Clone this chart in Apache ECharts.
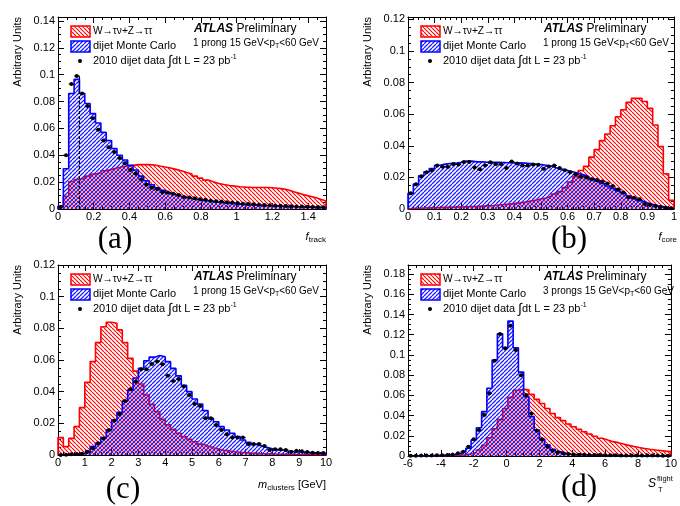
<!DOCTYPE html>
<html><head><meta charset="utf-8">
<script src="https://cdn.jsdelivr.net/npm/echarts@6/dist/echarts.min.js"></script>
<style>html,body{margin:0;padding:0;background:#fff}#c{width:680px;height:506px}</style>
</head><body><div id="c"></div>
<script>
// ---------- data (50 bins per panel) ----------
const aRed = [0.002,0.0095,0.0205,0.022,0.023,0.0245,0.026,0.027,0.0285,0.0295,0.0305,0.0315,0.032,0.0325,0.033,0.033,0.033,0.0328,0.032,0.0313,0.0305,0.0295,0.0285,0.0272,0.026,0.0245,0.023,0.0215,0.0202,0.019,0.0182,0.0175,0.017,0.0166,0.0163,0.0161,0.016,0.016,0.016,0.0158,0.0155,0.015,0.0142,0.0128,0.0117,0.0105,0.0095,0.0085,0.0072,0.006];
const aBlue = [0.002,0.030,0.086,0.0965,0.086,0.0785,0.071,0.064,0.057,0.051,0.045,0.040,0.0365,0.0325,0.029,0.0245,0.021,0.018,0.0158,0.014,0.012,0.0107,0.0095,0.0087,0.0078,0.0071,0.0065,0.006,0.0055,0.005,0.0046,0.0042,0.0039,0.0036,0.0033,0.003,0.0028,0.0026,0.0024,0.0022,0.002,0.0019,0.0018,0.0017,0.0016,0.0015,0.0014,0.0013,0.0012,0.0011];
const aData = [0.0015,0.040,0.093,0.099,0.086,0.0766,0.0675,0.059,0.051,0.046,0.0425,0.038,0.034,0.029,0.0265,0.022,0.018,0.0158,0.0148,0.0125,0.0123,0.0113,0.0105,0.009,0.0085,0.008,0.0072,0.0068,0.0062,0.0058,0.0055,0.005,0.0048,0.0045,0.004,0.0038,0.0035,0.0032,0.003,0.0027,0.0025,0.0024,0.0022,0.002,0.0019,0.0018,0.0016,0.0015,0.0014,0.0013];
const aCut = [0.12, 0.1]; // dashed vertical line: x position, top value

const bRed = [0.0004,0.0005,0.0006,0.0007,0.0008,0.0009,0.001,0.0011,0.0012,0.0013,0.0014,0.0015,0.0016,0.0018,0.002,0.0022,0.0025,0.0028,0.0031,0.0035,0.0039,0.0044,0.005,0.0056,0.0063,0.007,0.0082,0.0095,0.011,0.0135,0.017,0.0205,0.0244,0.027,0.0328,0.0376,0.0433,0.0475,0.0527,0.0584,0.0628,0.0675,0.07,0.07,0.068,0.0637,0.0532,0.0395,0.0223,0.0055];
const bBlue = [0.0099,0.0158,0.021,0.0235,0.0256,0.0277,0.0284,0.0288,0.029,0.0296,0.0303,0.0303,0.0298,0.0298,0.0296,0.0295,0.0295,0.0294,0.0293,0.0293,0.0292,0.029,0.0288,0.0285,0.0282,0.0277,0.027,0.026,0.0252,0.0244,0.0236,0.0226,0.0216,0.0205,0.0192,0.0178,0.0162,0.0146,0.013,0.0114,0.0098,0.0082,0.0066,0.0052,0.004,0.003,0.0021,0.0015,0.0009,0.0004];
const bData = [0.0099,0.0156,0.0208,0.0233,0.0244,0.0275,0.0267,0.0265,0.0284,0.0282,0.0298,0.0298,0.0263,0.0252,0.0275,0.0296,0.0284,0.0284,0.0259,0.030,0.0288,0.0275,0.0275,0.0282,0.028,0.0254,0.0269,0.0275,0.0259,0.0246,0.0233,0.022,0.0204,0.020,0.0189,0.0183,0.0174,0.0162,0.0145,0.0124,0.0105,0.0074,0.0071,0.0061,0.0032,0.0025,0.0019,0.0013,0.0008,0.0004];

const cRed = [0.011,0.0053,0.0105,0.0179,0.0299,0.0459,0.059,0.071,0.081,0.0838,0.0832,0.079,0.071,0.061,0.053,0.0448,0.0379,0.032,0.0274,0.0225,0.019,0.0162,0.0137,0.0116,0.0099,0.0084,0.0069,0.0057,0.0046,0.0038,0.003,0.0025,0.0021,0.0017,0.0015,0.0012,0.001,0.0008,0.0007,0.0006,0.0005,0.0005,0.0004,0.0004,0.0003,0.0003,0.0003,0.0002,0.0002,0.0002];
const cBlue = [0.0002,0.0003,0.0004,0.0006,0.0009,0.002,0.0053,0.0074,0.011,0.0158,0.022,0.027,0.034,0.041,0.0486,0.0547,0.0595,0.0618,0.0628,0.062,0.059,0.0547,0.05,0.044,0.04,0.0354,0.0322,0.028,0.0232,0.021,0.0179,0.0158,0.0137,0.0116,0.0095,0.008,0.0067,0.0057,0.0048,0.004,0.0034,0.003,0.0025,0.0021,0.0019,0.0017,0.0015,0.0013,0.0011,0.0008];
const cData = [0,0.0002,0.0004,0.0006,0.0008,0.0021,0.0042,0.0074,0.0105,0.0158,0.0217,0.0257,0.0341,0.0415,0.0463,0.0541,0.0541,0.0575,0.059,0.0573,0.0501,0.0467,0.048,0.0432,0.0379,0.0322,0.031,0.0232,0.0232,0.019,0.0158,0.0131,0.011,0.011,0.011,0.007,0.007,0.007,0.0057,0.0032,0.0036,0.0036,0.0032,0.0021,0.0027,0.0023,0.0019,0.0015,0.0013,0.0013];

const dRed = [0.0001,0.0001,0.0001,0.0002,0.0002,0.0003,0.0004,0.0005,0.0007,0.0009,0.0013,0.002,0.0035,0.006,0.0105,0.018,0.027,0.036,0.047,0.058,0.065,0.066,0.0655,0.061,0.056,0.052,0.047,0.042,0.038,0.035,0.0317,0.029,0.0264,0.024,0.0218,0.0195,0.0175,0.0158,0.0142,0.0132,0.0119,0.0105,0.0094,0.0084,0.0075,0.0066,0.006,0.0054,0.0048,0.0043];
const dBlue = [0.0002,0.0002,0.0003,0.0003,0.0004,0.0005,0.0007,0.001,0.0015,0.0026,0.0043,0.0076,0.0158,0.028,0.0439,0.067,0.095,0.121,0.107,0.1335,0.107,0.083,0.0587,0.039,0.0257,0.0165,0.011,0.0066,0.0043,0.003,0.002,0.0015,0.0012,0.001,0.0008,0.0007,0.0006,0.0005,0.0004,0.0004,0.0003,0.0003,0.0002,0.0002,0.0002,0.0002,0.0001,0.0001,0.0001,0.0001];
const dData = [0.0003,0.0003,0.0004,0.0004,0.0005,0.0007,0.0008,0.001,0.0015,0.0026,0.0043,0.0092,0.0165,0.0257,0.0406,0.062,0.0943,0.1207,0.1065,0.129,0.1048,0.080,0.0603,0.042,0.025,0.0165,0.0092,0.0053,0.0036,0.0026,0.002,0.0015,0.0013,0.0012,0.001,0.001,0.0009,0.0008,0.0008,0.0007,0.0006,0.0006,0.0005,0.0005,0.0005,0.0004,0.0004,0.0004,0.0003,0.0003];

// axis ranges / binning
const xRanges = { a:[0,1.5], b:[0,1], c:[0,10], d:[-6,10] };
const binWidths = { a:0.03, b:0.02, c:0.2, d:0.32 };
const xIntervals = { a:0.2, b:0.1, c:1, d:2 };
const yMaxes = { a:0.1429, b:0.1215, c:0.12, d:0.189 };
const yInterval = 0.02;
const prongTexts = { a:'1 prong', b:'1 prong', c:'1 prong', d:'3 prongs' };
const panelLabels = { a:'(a)', b:'(b)', c:'(c)', d:'(d)' };

// ---------- layout ----------
const FONT = 'Liberation Sans, Arial, Helvetica, sans-serif';
const panels = [
  { k:'a', red:aRed, blue:aBlue, data:aData, grid:{left:58, top:17, width:268, height:192}, xMinor:4, showXMax:false, showYMax:false, lab:[115,240] },
  { k:'b', red:bRed, blue:bBlue, data:bData, grid:{left:408, top:17, width:269, height:192}, xMinor:5, showXMax:true, showYMax:false, lab:[569,240] },
  { k:'c', red:cRed, blue:cBlue, data:cData, grid:{left:58, top:265, width:268, height:190}, xMinor:5, showXMax:true, showYMax:true, lab:[123,490] },
  { k:'d', red:dRed, blue:dBlue, data:dData, grid:{left:408, top:265, width:268, height:191}, xMinor:4, showXMax:true, showYMax:false, lab:[579,488] }
];

function hatch(color, slash, lw) {
  const s = 4, c = document.createElement('canvas');
  c.width = s; c.height = s;
  const g = c.getContext('2d');
  g.clearRect(0, 0, s, s);
  g.strokeStyle = color; g.lineWidth = lw;
  g.beginPath();
  for (let k = -1; k <= 1; k++) {
    if (slash) { g.moveTo(k*s, s); g.lineTo(k*s + s, 0); }
    else { g.moveTo(k*s, 0); g.lineTo(k*s + s, s); }
  }
  g.stroke();
  return c;
}
const redPat = { image: hatch('rgb(255,0,0)', false, 1.1), repeat: 'repeat' };
const bluePat = { image: hatch('rgb(30,30,255)', true, 1.25), repeat: 'repeat' };

function stepData(vals, x0, bw) {
  const pts = [[x0, 0]];
  vals.forEach((v, i) => pts.push([x0 + i*bw, v]));
  pts.push([x0 + vals.length*bw, 0]);
  return pts;
}

const grids = [], xAxes = [], yAxes = [], series = [], graphics = [];
const tickCommon = () => ({ show:true, inside:true, length:6, lineStyle:{color:'#000', width:1} });

panels.forEach((p, i) => {
  const k = p.k, xr = xRanges[k], bw = binWidths[k];
  grids.push(Object.assign({ containLabel:false }, p.grid));
  const axLine = { show:true, onZero:false, lineStyle:{color:'#000', width:1} };
  const lbl = { color:'#000', fontSize:11, fontFamily:FONT };
  ['bottom','top'].forEach(pos => xAxes.push({
    gridIndex:i, type:'value', position:pos, min:xr[0], max:xr[1], interval:xIntervals[k],
    axisLine:axLine, axisTick:tickCommon(), splitLine:{show:false},
    minorTick:{show:true, splitNumber:p.xMinor, length:3, lineStyle:{color:'#000', width:1}},
    axisLabel: pos==='bottom' ? Object.assign({ show:true, margin:2, showMaxLabel:p.showXMax, showMinLabel:true }, lbl) : { show:false }
  }));
  ['left','right'].forEach(pos => yAxes.push({
    gridIndex:i, type:'value', position:pos, min:0, max:yMaxes[k], interval:yInterval,
    axisLine:axLine, axisTick:tickCommon(), splitLine:{show:false},
    minorTick:{show:true, splitNumber:4, length:3, lineStyle:{color:'#000', width:1}},
    axisLabel: pos==='left' ? Object.assign({ show:true, margin:3, showMaxLabel:p.showYMax, showMinLabel:true }, lbl) : { show:false }
  }));
  const xi = 2*i, yi = 2*i;
  series.push({
    type:'line', xAxisIndex:xi, yAxisIndex:yi, step:'end', symbol:'none', z:2,
    data: stepData(p.red, xr[0], bw),
    lineStyle:{color:'#ff0000', width:1.6}, areaStyle:{color:redPat, opacity:1}
  });
  series.push({
    type:'line', xAxisIndex:xi, yAxisIndex:yi, step:'end', symbol:'none', z:3,
    data: stepData(p.blue, xr[0], bw),
    lineStyle:{color:'#0000ff', width:1.6}, areaStyle:{color:bluePat, opacity:1}
  });
  series.push({
    type:'custom', xAxisIndex:xi, yAxisIndex:yi, z:5,
    data: p.data.map((v, j) => [xr[0] + (j + 0.5)*bw, v]),
    encode:{x:0, y:1},
    renderItem: (params, api) => {
      const x = api.value(0), y = api.value(1);
      const c = api.coord([x, y]);
      const l = api.coord([x - bw/2, y]), r = api.coord([x + bw/2, y]);
      return { type:'group', children:[
        { type:'line', shape:{x1:l[0], y1:c[1], x2:r[0], y2:c[1]}, style:{stroke:'#000', lineWidth:1} },
        { type:'circle', shape:{cx:c[0], cy:c[1], r:2}, style:{fill:'#000'} }
      ]};
    }
  });
  if (k === 'a') {
    series.push({
      type:'line', xAxisIndex:xi, yAxisIndex:yi, symbol:'none', z:6,
      data:[[aCut[0], 0], [aCut[0], aCut[1]]],
      lineStyle:{color:'#000', width:1.2, type:[3,2]}
    });
  }

  // ---------- texts / legend ----------
  const L = p.grid.left, T = p.grid.top;
  graphics.push(
    { type:'rect', shape:{x:L+13, y:T+9, width:19, height:11}, style:{fill:redPat, stroke:'#ff0000', lineWidth:1.5} },
    { type:'rect', shape:{x:L+13, y:T+24, width:19, height:11}, style:{fill:bluePat, stroke:'#0000ff', lineWidth:1.5} },
    { type:'circle', shape:{cx:L+22, cy:T+44, r:2}, style:{fill:'#000'} },
    { type:'text', x:L+35, y:T+14, style:{ text:'W→τν+Z→ττ', fontSize:10.2, fontFamily:FONT, fill:'#000', verticalAlign:'middle' } },
    { type:'text', x:L+35, y:T+29, style:{ text:'dijet Monte Carlo', fontSize:11, fontFamily:FONT, fill:'#000', verticalAlign:'middle' } },
    { type:'text', x:L+35, y:T+44, style:{
      text:'{n|2010 dijet data }{i|∫}{n|dt L = 23 pb}{u|-1}', verticalAlign:'middle',
      rich:{ n:{fontSize:11, fontFamily:FONT, fill:'#000', lineHeight:14, verticalAlign:'middle'},
             i:{fontSize:14, fontFamily:FONT, fill:'#000', lineHeight:14, verticalAlign:'middle'},
             u:{fontSize:7, fontFamily:FONT, fill:'#000', lineHeight:7, verticalAlign:'top'} } } },
    { type:'text', x:L+136, y:T+12, style:{
      text:'{a|ATLAS}{b| Preliminary}', verticalAlign:'middle',
      rich:{ a:{fontSize:12, fontFamily:FONT, fontWeight:'bold', fontStyle:'italic', fill:'#000'},
             b:{fontSize:12, fontFamily:FONT, fill:'#000'} } } },
    { type:'text', x:L+135, y:T+26, style:{
      text:'{n|' + prongTexts[k] + ' 15 GeV<p}{s|T}{n|<60 GeV}', verticalAlign:'middle',
      rich:{ n:{fontSize:10, fontFamily:FONT, fill:'#000', lineHeight:14, verticalAlign:'middle'},
             s:{fontSize:7, fontFamily:FONT, fill:'#000', lineHeight:7, verticalAlign:'bottom'} } } },
    { type:'text', x:L-40, y:T, rotation:Math.PI/2, style:{ text:'Arbitrary Units', fontSize:11, fontFamily:FONT, fill:'#000', align:'right', verticalAlign:'middle' } },
    { type:'text', x:p.lab[0], y:p.lab[1], style:{ text:panelLabels[k], fontSize:31, fontFamily:'Liberation Serif, Times New Roman, serif', fill:'#000', align:'center', verticalAlign:'middle' } }
  );
});

// x-axis titles
const subRich = () => ({
  i:{fontSize:11, fontFamily:FONT, fontStyle:'italic', fill:'#000', lineHeight:14, verticalAlign:'middle'},
  s:{fontSize:8, fontFamily:FONT, fill:'#000', lineHeight:8, verticalAlign:'bottom'},
  n:{fontSize:11, fontFamily:FONT, fill:'#000', lineHeight:14, verticalAlign:'middle'}
});
graphics.push(
  { type:'text', x:326, y:237, style:{ text:'{i|f}{s|track}', align:'right', verticalAlign:'middle', rich:subRich() } },
  { type:'text', x:677, y:237, style:{ text:'{i|f}{s|core}', align:'right', verticalAlign:'middle', rich:subRich() } },
  { type:'text', x:326, y:485, style:{ text:'{i|m}{s|clusters}{n| [GeV]}', align:'right', verticalAlign:'middle', rich:subRich() } },
  { type:'text', x:648, y:484, style:{ text:'S', fontSize:12, fontStyle:'italic', fontFamily:FONT, fill:'#000', verticalAlign:'middle' } },
  { type:'text', x:657, y:479, style:{ text:'flight', fontSize:7.5, fontFamily:FONT, fill:'#000', verticalAlign:'middle' } },
  { type:'text', x:658, y:490, style:{ text:'T', fontSize:7.5, fontFamily:FONT, fill:'#000', verticalAlign:'middle' } }
);

const chart = echarts.init(document.getElementById('c'), null, { renderer:'canvas' });
chart.setOption({
  animation:false,
  backgroundColor:'#fff',
  grid:grids, xAxis:xAxes, yAxis:yAxes, series:series, graphic:graphics
});
</script>
</body></html>
